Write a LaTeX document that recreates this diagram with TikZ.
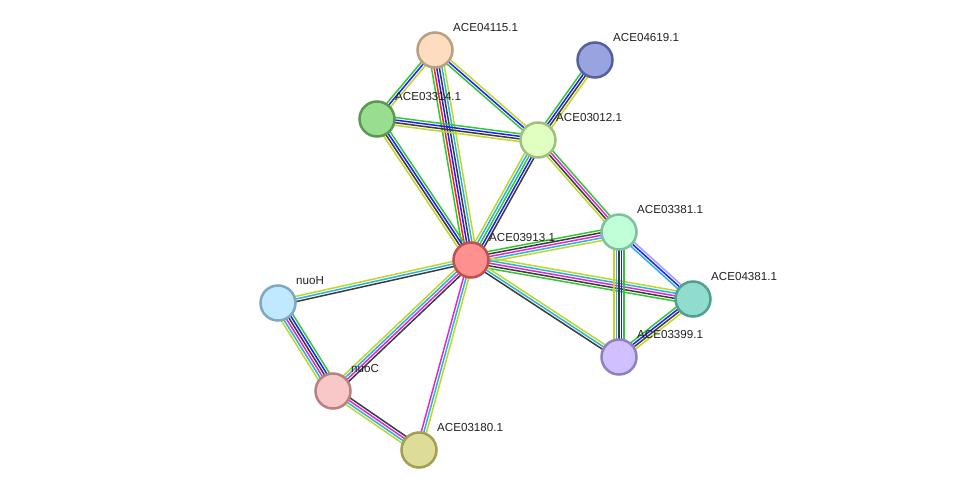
\documentclass[tikz,border=0pt]{standalone}
\usepackage{fontspec}
\setmainfont{Liberation Sans}
\usetikzlibrary{calc,backgrounds}
\definecolor{sgreen}{RGB}{50,200,50}
\definecolor{sred}{RGB}{255,30,30}
\definecolor{sblue}{RGB}{30,30,255}
\definecolor{sblack}{RGB}{60,60,60}
\definecolor{scyan}{RGB}{40,180,220}
\definecolor{smag}{RGB}{220,40,220}
\definecolor{syel}{RGB}{190,215,40}
\definecolor{slav}{RGB}{160,160,255}
\definecolor{fA}{RGB}{253,220,192}\definecolor{dA}{RGB}{184,160,128}
\definecolor{fB}{RGB}{153,163,224}\definecolor{dB}{RGB}{85,96,160}
\definecolor{fC}{RGB}{153,221,144}\definecolor{dC}{RGB}{90,153,80}
\definecolor{fD}{RGB}{224,255,192}\definecolor{dD}{RGB}{160,192,128}
\definecolor{fE}{RGB}{192,255,216}\definecolor{dE}{RGB}{128,192,160}
\definecolor{fF}{RGB}{255,144,144}\definecolor{dF}{RGB}{192,80,80}
\definecolor{fG}{RGB}{144,221,208}\definecolor{dG}{RGB}{80,160,144}
\definecolor{fH}{RGB}{192,232,255}\definecolor{dH}{RGB}{128,168,192}
\definecolor{fI}{RGB}{208,192,255}\definecolor{dI}{RGB}{144,128,192}
\definecolor{fJ}{RGB}{248,200,200}\definecolor{dJ}{RGB}{184,128,128}
\definecolor{fK}{RGB}{221,221,153}\definecolor{dK}{RGB}{160,160,80}
\newcommand\stredge[4]{%
  \foreach \cc [count=\ii] in {#4} {%
    \pgfmathsetmacro\off{(\ii-(#3+1)/2)*2.6}%
    \draw[color=\cc,line width=1.5pt] ($(#1)!\off pt!90:(#2)$) -- ($(#2)!\off pt!-90:(#1)$);
  }%
}
\tikzset{
  prot/.style={circle,minimum size=35pt,inner sep=0pt,line width=2.5pt},
  lab/.style={font=\fontsize{11.6}{13}\selectfont,text=black!87,anchor=west,inner sep=0pt}
}
\begin{document}
\begin{tikzpicture}[x=1pt,y=-1pt]
\useasboundingbox (0,0) rectangle (975,495);
\node[prot,fill=fA,draw=dA] (a04115) at (435,50) {};
\node[prot,fill=fB,draw=dB] (a04619) at (595,60) {};
\node[prot,fill=fC,draw=dC] (a03314) at (377,119) {};
\node[prot,fill=fD,draw=dD] (a03012) at (538,140) {};
\node[prot,fill=fE,draw=dE] (a03381) at (619,232) {};
\node[prot,fill=fF,draw=dF] (a03913) at (471,260) {};
\node[prot,fill=fG,draw=dG] (a04381) at (693,299) {};
\node[prot,fill=fH,draw=dH] (nuoH) at (278,303) {};
\node[prot,fill=fI,draw=dI] (a03399) at (619,357) {};
\node[prot,fill=fJ,draw=dJ] (nuoC) at (333,391) {};
\node[prot,fill=fK,draw=dK] (a03180) at (419,450) {};
\node[lab] (l04115) at (453,28) {ACE04115.1};
\node[lab] (l04619) at (613,38) {ACE04619.1};
\node[lab] (l03314) at (395,97) {ACE03314.1};
\node[lab] (l03012) at (556,118) {ACE03012.1};
\node[lab] (l03381) at (637,210) {ACE03381.1};
\node[lab] (l03913) at (489,238) {ACE03913.1};
\node[lab] (l04381) at (711,277) {ACE04381.1};
\node[lab] (lnuoH) at (296,281) {nuoH};
\node[lab] (l03399) at (637,335) {ACE03399.1};
\node[lab] (lnuoC) at (351,369) {nuoC};
\node[lab] (l03180) at (437,428) {ACE03180.1};
\begin{scope}[on background layer]
\fill[white] (0,0) rectangle (975,495);
\stredge{a04115}{a03314}{3}{sgreen,sblue,syel}
\stredge{a04115}{a03913}{6}{sgreen,sred,sblue,sblack,scyan,syel}
\stredge{a04115}{a03012}{3}{sgreen,sblue,syel}
\stredge{a03314}{a03012}{4}{syel,sblack,sblue,sgreen}
\stredge{a03314}{a03913}{4}{syel,sblack,sblue,sgreen}
\stredge{a04619}{a03012}{4}{sgreen,sblue,sblack,syel}
\stredge{a03012}{a03913}{5}{syel,scyan,sgreen,sblue,sblack}
\stredge{a03012}{a03381}{4}{syel,sblack,smag,sgreen}
\stredge{a03913}{a03381}{5}{syel,scyan,smag,sblack,sgreen}
\stredge{a03913}{a04381}{5}{sgreen,sblack,smag,scyan,syel}
\stredge{a03913}{a03399}{3}{sblack,scyan,syel}
\stredge{a03381}{a04381}{3}{scyan,sblue,slav}
\stredge{a03381}{a03399}{5}{syel,scyan,sblack,sblue,sgreen}
\stredge{a04381}{a03399}{4}{sgreen,sblue,sblack,syel}
\stredge{a03913}{nuoH}{3}{syel,scyan,sblack}
\stredge{a03913}{nuoC}{4}{syel,scyan,smag,sblack}
\stredge{a03913}{a03180}{3}{smag,scyan,syel}
\stredge{nuoH}{nuoC}{6}{syel,scyan,smag,sblack,sblue,sgreen}
\stredge{nuoC}{a03180}{4}{syel,scyan,smag,sblack}
\end{scope}
\end{tikzpicture}
\end{document}
